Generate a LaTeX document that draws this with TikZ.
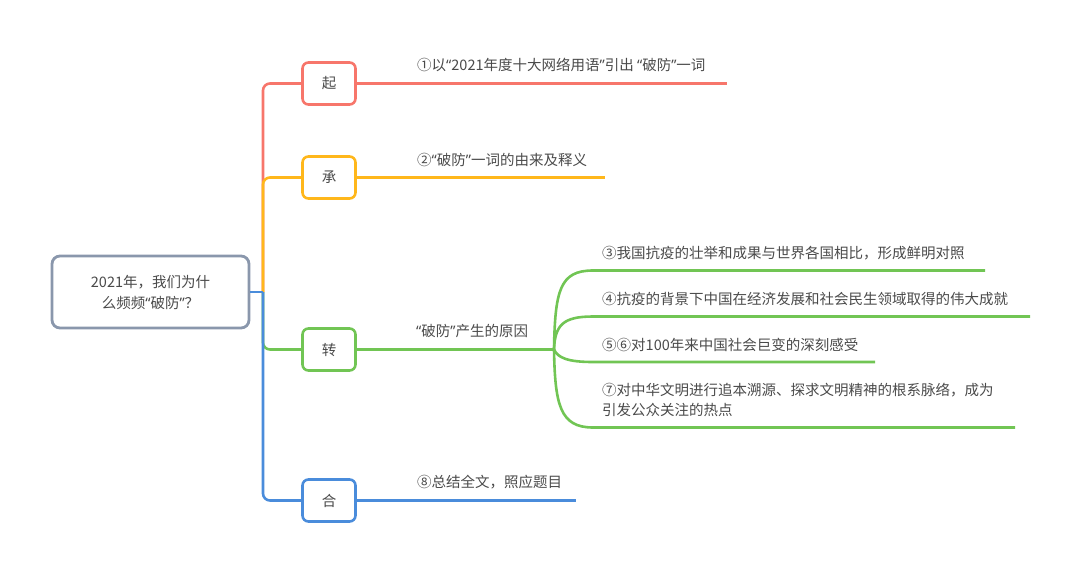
\documentclass[tikz,border=0pt]{standalone}
\usepackage{fontspec}
\setmainfont{Noto Sans CJK SC}
\newfontfamily\qfont{Noto Sans}
\newcommand\ql{{\qfont“}}
\newcommand\qr{{\qfont”}}
\definecolor{cred}{HTML}{F7766B}
\definecolor{corange}{HTML}{FFB71B}
\definecolor{cgreen}{HTML}{71C554}
\definecolor{cblue}{HTML}{4A8CDB}
\definecolor{croot}{HTML}{8A97AC}
\definecolor{txt}{HTML}{4A4A4A}
\begin{document}
\begin{tikzpicture}[x=1pt,y=-1pt,
  branch/.style={line width=2.6pt, rounded corners=7pt},
  sub/.style={line width=2.6pt, cgreen},
  box/.style={draw, line width=2.6pt, rounded corners=6pt, fill=white,
    minimum width=53pt, minimum height=42pt, inner sep=0pt,
    font=\fontsize{14.5}{18}\selectfont, text=txt},
  lbl/.style={anchor=west, inner sep=0pt, font=\fontsize{14.5}{20}\selectfont, text=txt, align=left}]
\useasboundingbox (0,0) rectangle (1080,573);

% root
\node[draw=croot, line width=2.8pt, rounded corners=8pt, minimum width=197pt, minimum height=72pt,
  fill=white, inner sep=0pt, align=center, text=txt, font=\fontsize{14.5}{21}\selectfont]
  (root) at (150.5,292) {2021年，我们为什\\么频频\ql 破防\qr？};

% trunk coordinate and boxes
\coordinate (t) at (263,292);
\node[box, draw=cred] (qi) at (329,83.5) {起};
\node[box, draw=corange] (cheng) at (329,177.5) {承};
\node[box, draw=cgreen] (zhuan) at (329,349.5) {转};
\node[box, draw=cblue] (he) at (329,500.5) {合};

% trunk branches
\draw[branch, cred] (t) |- (qi.west);
\draw[branch, corange] (t) |- (cheng.west);
\draw[branch, cgreen] (t) |- (zhuan.west);
\draw[line width=2.6pt, cblue] (root.east) -- (t);
\draw[branch, cblue] (t) |- (he.west);

% end coordinates
\coordinate (e1) at (727,83.5);
\coordinate (e2) at (605,177.5);
\coordinate (J)  at (554,349.5);
\coordinate (e8) at (576,500.5);

\draw[line width=2.6pt, cred] (qi.east) -- (e1);
\draw[line width=2.6pt, corange] (cheng.east) -- (e2);
\draw[line width=2.6pt, cgreen] (zhuan.east) -- (J);
\draw[line width=2.6pt, cblue] (he.east) -- (e8);

\node[lbl] (t1) at (417,65) {①以\ql 2021年度十大网络用语\qr 引出 \ql 破防\qr 一词};
\node[lbl] (t2) at (417,160) {②\ql 破防\qr 一词的由来及释义};
\node[lbl] (tz) at (416,331) {\ql 破防\qr 产生的原因};
\node[lbl] (t8) at (417,482) {⑧总结全文，照应题目};

% sub branches
\coordinate (s3) at (593,270.5);  \coordinate (e3) at (985,270.5);
\coordinate (s4) at (593,316.5);  \coordinate (e4) at (1030,316.5);
\coordinate (s5) at (593,362);    \coordinate (e5) at (875,362);
\coordinate (s7) at (593,427.5);  \coordinate (e7) at (1015,427.5);

\draw[sub] (J) .. controls (555,290) and (560,270.5) .. (s3) -- (e3);
\draw[sub] (J) .. controls (555,325) and (563,316.5) .. (s4) -- (e4);
\draw[sub] (J) .. controls (558,358) and (568,362) .. (s5) -- (e5);
\draw[sub] (J) .. controls (555,405) and (560,427.5) .. (s7) -- (e7);

\node[lbl] (t3) at (602,253) {③我国抗疫的壮举和成果与世界各国相比，形成鲜明对照};
\node[lbl] (t4) at (602,298.5) {④抗疫的背景下中国在经济发展和社会民生领域取得的伟大成就};
\node[lbl] (t5) at (602,344.5) {⑤⑥对100年来中国社会巨变的深刻感受};
\node[lbl] (t7) at (602,400) {⑦对中华文明进行追本溯源、探求文明精神的根系脉络，成为\\引发公众关注的热点};
\end{tikzpicture}
\end{document}
